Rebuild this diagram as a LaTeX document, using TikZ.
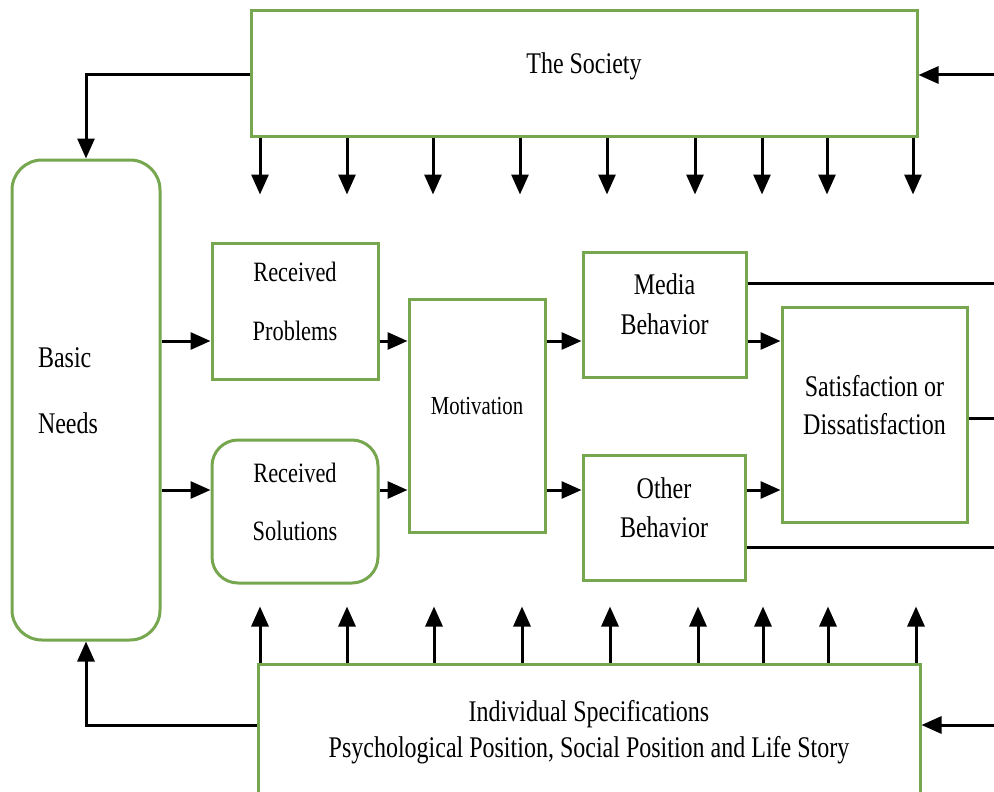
\documentclass[tikz,border=0pt]{standalone}
\usepackage{fontspec}
\setmainfont{Liberation Serif}[FakeStretch=0.8]
\usetikzlibrary{arrows.meta}
\definecolor{boxgreen}{RGB}{118,166,78}

\begin{document}
\begin{tikzpicture}[x=1pt,y=-1pt,
    box/.style={draw=boxgreen, line width=3pt, align=center, inner sep=0pt,
      font=\fontsize{30}{34}\selectfont},
    lifted/.style={text depth=20pt},
    roundbox/.style={box, rounded corners=26pt},
    flow/.style={line width=3pt, -{Triangle[length=20pt,width=17pt]}},
    plain/.style={line width=3pt}]
    \path[use as bounding box, clip] (0,0) rectangle (994,792);

    % Boxes
    \node[box, lifted, minimum width=666, minimum height=125] (society) at (584,73.5) {The Society};
    \node[roundbox, minimum width=148, minimum height=480, text width=96, align=left,
      text depth=84pt, rounded corners=30pt] (needs) at (86,400) {Basic\\[32pt]Needs};
    \node[box, lifted, minimum width=166, minimum height=136, font=\fontsize{28}{34}\selectfont]
      (problems) at (295,311) {Received\\[25pt]Problems};
    \node[roundbox, lifted, minimum width=166, minimum height=143, font=\fontsize{28}{34}\selectfont]
      (solutions) at (295,511.5) {Received\\[24pt]Solutions};
    \node[box, lifted, minimum width=136, minimum height=233, font=\fontsize{26}{30}\selectfont]
      (motivation) at (477,415.5) {Motivation};
    \node[box, lifted, minimum width=163, minimum height=125] (media) at (664.5,314.5) {Media\\[6pt]Behavior};
    \node[box, lifted, minimum width=162, minimum height=125] (other) at (664,517.5) {Other\\[5pt]Behavior};
    \node[box, lifted, minimum width=185, minimum height=215] (satisfaction) at (874.5,414.5)
      {Satisfaction or\\[4pt]Dissatisfaction};
    \node[box, minimum width=662, minimum height=136] (indiv) at (589,732)
      {Individual Specifications\\[2pt]Psychological Position, Social Position and Life Story};

    % Levels and free ends
    \coordinate (upper) at (0,341);
    \coordinate (lower) at (0,490);
    \coordinate (socin) at (994,75);
    \coordinate (indin) at (994,725);
    \coordinate (mediaout) at (994,283);
    \coordinate (otherout) at (994,547);
    \coordinate (satout) at (994,418);

    % Main flow
    \draw[flow] (needs.east |- upper) -- (problems.west |- upper);
    \draw[flow] (needs.east |- lower) -- (solutions.west |- lower);
    \draw[flow] (problems.east |- upper) -- (motivation.west |- upper);
    \draw[flow] (solutions.east |- lower) -- (motivation.west |- lower);
    \draw[flow] (motivation.east |- upper) -- (media.west |- upper);
    \draw[flow] (motivation.east |- lower) -- (other.west |- lower);
    \draw[flow] (media.east |- upper) -- (satisfaction.west |- upper);
    \draw[flow] (other.east |- lower) -- (satisfaction.west |- lower);

    % Outgoing lines
    \draw[plain] (media.east |- mediaout) -- (mediaout);
    \draw[plain] (satisfaction.east |- satout) -- (satout);
    \draw[plain] (other.east |- otherout) -- (otherout);

    % Incoming from the right
    \draw[flow] (socin) -- (society.east |- socin);
    \draw[flow] (indin) -- (indiv.east |- indin);

    % Back to basic needs
    \draw[flow] (society.west |- socin) -| (needs.north);
    \draw[flow] (indiv.west |- indin) -| (needs.south);

    % Influences
    \foreach \x in {260,347,433,520,607,695,762,827,913}
      \draw[flow] (society.south -| \x,0) -- ++(0,57);
    \foreach \x in {260,347,434,522,610,698,763,828,916}
      \draw[flow] (indiv.north -| \x,0) -- ++(0,-56);
\end{tikzpicture}
\end{document}
